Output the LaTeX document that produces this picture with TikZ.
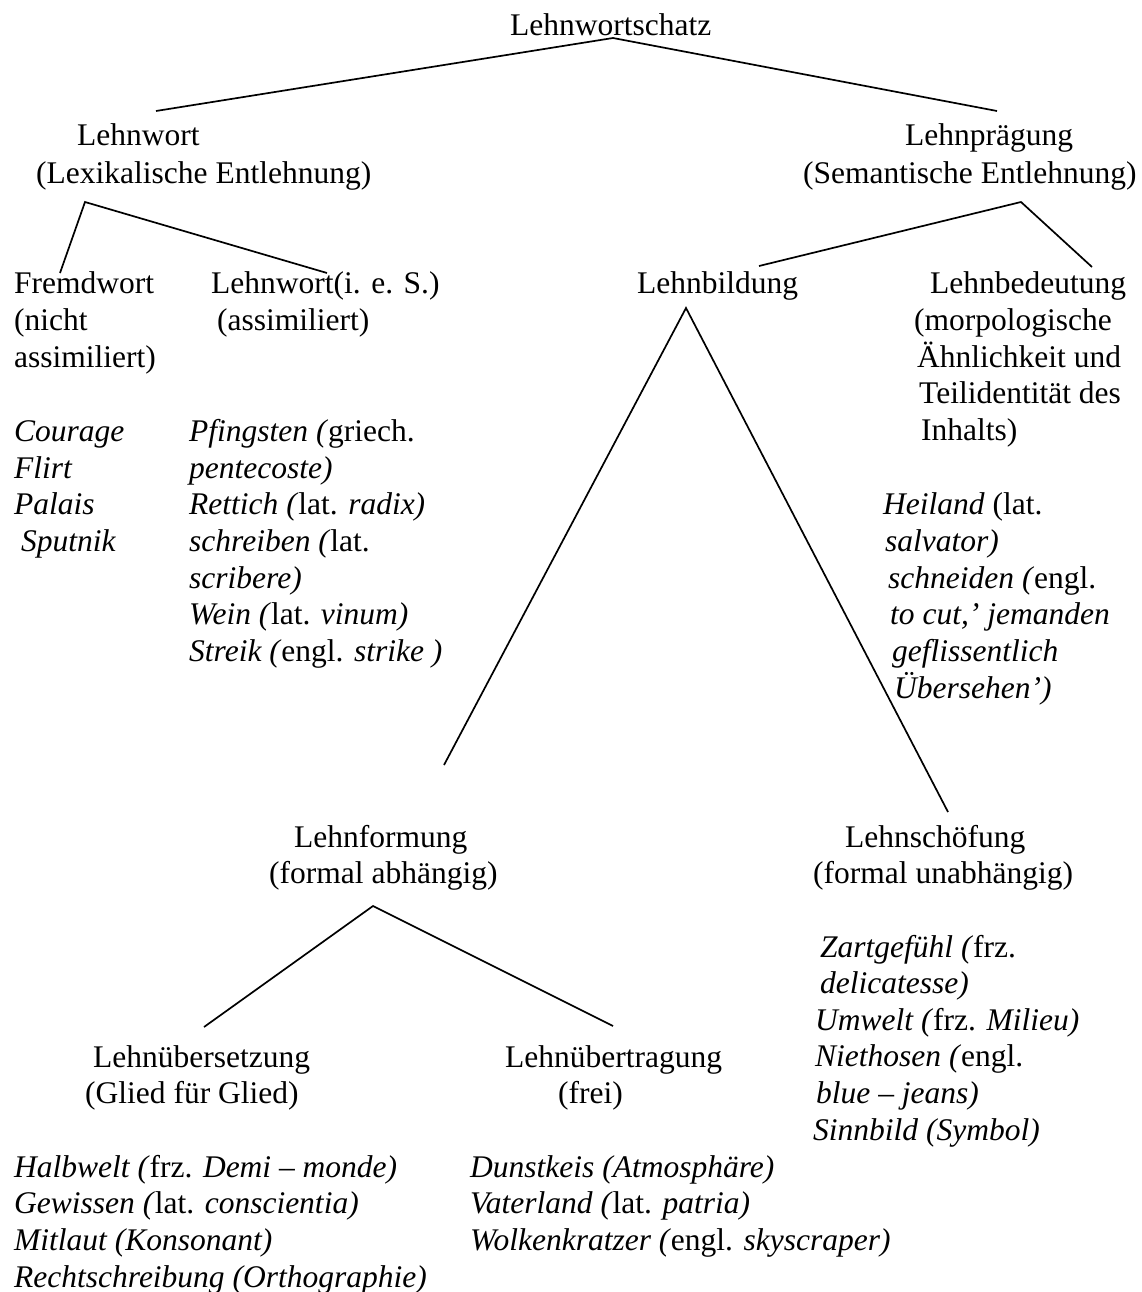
\documentclass[tikz,border=0pt]{standalone}
\usepackage{fontspec}
\setmainfont{Liberation Serif}
\usetikzlibrary{positioning}

\tikzset{
  txt/.style={anchor=base west,inner sep=0pt,font=\fontsize{31.5}{36.7}\selectfont},
  branch/.style={line width=1.7pt}
}

\begin{document}
\begin{tikzpicture}[x=1pt,y=-1pt]
  \useasboundingbox (0,0) rectangle (1141,1292);
  % top level
  \node[txt] (schatz) at (510,36) {Lehnwortschatz};
  \node[txt] (lw) at (77,146) {Lehnwort};
  \node[txt] (lwSub) at (36,183) {(Lexikalische Entlehnung)};
  \node[txt] (lp) at (905,146) {Lehnprägung};
  \node[txt] (lpSub) at (803,183) {(Semantische Entlehnung)};
  % second level
  \node[txt] (fremd) at (14,293) {Fremdwort};
  \node[txt] (fremdA) at (14,330) {(nicht};
  \node[txt] (fremdB) at (14,367) {assimiliert)};
  \node[txt] (lies) at (211,293) {Lehnwort(i. e. S.)};
  \node[txt] (liesA) at (217,330) {(assimiliert)};
  \node[txt] (lb) at (637,293) {Lehnbildung};
  \node[txt] (lbd) at (930,293) {Lehnbedeutung};
  \node[txt] (lbdA) at (914,330) {(morpologische};
  \node[txt] (lbdB) at (917,367) {Ähnlichkeit und};
  \node[txt] (lbdC) at (919,403) {Teilidentität des};
  \node[txt] (lbdD) at (921,440) {Inhalts)};
  % examples
  \node[txt] (exF1) at (14,441) {\textit{Courage}};
  \node[txt] (exF2) at (14,478) {\textit{Flirt}};
  \node[txt] (exF3) at (14,514) {\textit{Palais}};
  \node[txt] (exF4) at (21,551) {\textit{Sputnik}};
  \node[txt] (exL1) at (189,441) {\textit{Pfingsten (}griech.};
  \node[txt] (exL2) at (189,478) {\textit{pentecoste)}};
  \node[txt] (exL3) at (189,514) {\textit{Rettich (}lat. \textit{radix)}};
  \node[txt] (exL4) at (189,551) {\textit{schreiben (}lat.};
  \node[txt] (exL5) at (189,588) {\textit{scribere)}};
  \node[txt] (exL6) at (189,624) {\textit{Wein (}lat. \textit{vinum)}};
  \node[txt] (exL7) at (189,661) {\textit{Streik (}engl. \textit{strike )}};
  \node[txt] (exB1) at (883,514) {\textit{Heiland} (lat.};
  \node[txt] (exB2) at (885,551) {\textit{salvator)}};
  \node[txt] (exB3) at (888,588) {\textit{schneiden (}engl.};
  \node[txt] (exB4) at (890,624) {\textit{to cut,’ jemanden}};
  \node[txt] (exB5) at (892,661) {\textit{geflissentlich}};
  \node[txt] (exB6) at (894,698) {\textit{Übersehen’)}};
  % third level
  \node[txt] (lf) at (294,847) {Lehnformung};
  \node[txt] (lfSub) at (269,883) {(formal abhängig)};
  \node[txt] (ls) at (845,847) {Lehnschöfung};
  \node[txt] (lsSub) at (813,883) {(formal unabhängig)};
  \node[txt] (exS1) at (820,957) {\textit{Zartgefühl (}frz.};
  \node[txt] (exS2) at (820,993) {\textit{delicatesse)}};
  \node[txt] (exS3) at (815,1030) {\textit{Umwelt (}frz. \textit{Milieu)}};
  \node[txt] (exS4) at (815,1066) {\textit{Niethosen (}engl.};
  \node[txt] (exS5) at (816,1103) {\textit{blue – jeans)}};
  \node[txt] (exS6) at (813,1140) {\textit{Sinnbild (Symbol)}};
  % fourth level
  \node[txt] (lue) at (93,1067) {Lehnübersetzung};
  \node[txt] (lueSub) at (85,1103) {(Glied für Glied)};
  \node[txt] (lut) at (505,1067) {Lehnübertragung};
  \node[txt] (lutSub) at (558,1103) {(frei)};
  \node[txt] (exU1) at (14,1177) {\textit{Halbwelt (}frz. \textit{Demi – monde)}};
  \node[txt] (exU2) at (14,1213) {\textit{Gewissen (}lat. \textit{conscientia)}};
  \node[txt] (exU3) at (14,1250) {\textit{Mitlaut (Konsonant)}};
  \node[txt] (exU4) at (14,1287) {\textit{Rechtschreibung (Orthographie)}};
  \node[txt] (exT1) at (470,1177) {\textit{Dunstkeis (Atmosphäre)}};
  \node[txt] (exT2) at (470,1213) {\textit{Vaterland (}lat. \textit{patria)}};
  \node[txt] (exT3) at (470,1250) {\textit{Wolkenkratzer (}engl. \textit{skyscraper)}};
  % branch points
  \coordinate (schatzTop) at (613,38);
  \coordinate (lwEnd) at (156,111);
  \coordinate (lpEnd) at (997,111);
  \coordinate (lwTop) at (85,202);
  \coordinate (fremdEnd) at (60,273);
  \coordinate (liesEnd) at (327,273);
  \coordinate (lpTop) at (1021,202);
  \coordinate (lbEnd) at (759,266);
  \coordinate (lbdEnd) at (1092,267);
  \coordinate (lbTop) at (686,308);
  \coordinate (lfEnd) at (444,765);
  \coordinate (lsEnd) at (948,812);
  \coordinate (lfTop) at (373,906);
  \coordinate (lueEnd) at (204,1027);
  \coordinate (lutEnd) at (613,1026);
  % branches
  \draw[branch] (lwEnd) -- (schatzTop) -- (lpEnd);
  \draw[branch] (fremdEnd) -- (lwTop) -- (liesEnd);
  \draw[branch] (lbEnd) -- (lpTop) -- (lbdEnd);
  \draw[branch] (lfEnd) -- (lbTop) -- (lsEnd);
  \draw[branch] (lueEnd) -- (lfTop) -- (lutEnd);
\end{tikzpicture}
\end{document}
